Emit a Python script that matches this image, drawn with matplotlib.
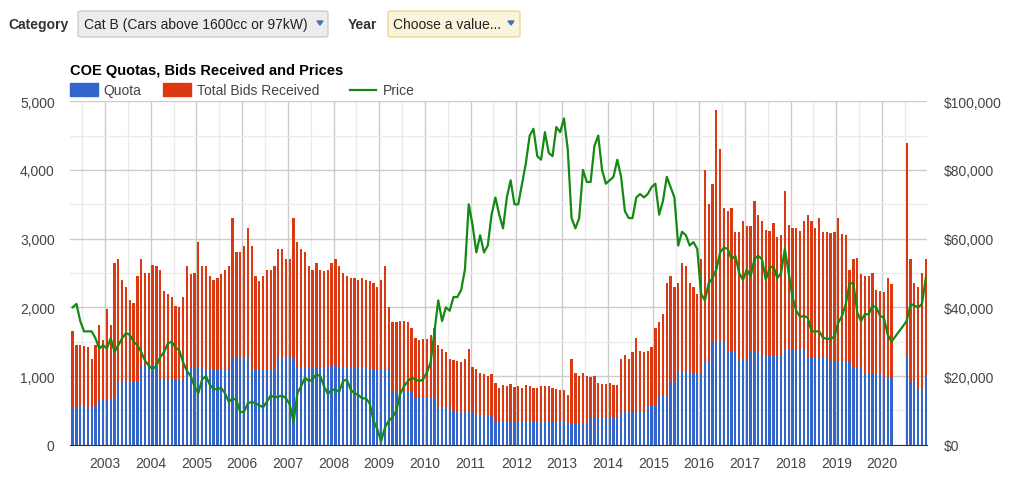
import numpy as np
import matplotlib
matplotlib.use("Agg")
import matplotlib.pyplot as plt
from matplotlib.patches import Rectangle, FancyBboxPatch, Polygon
from matplotlib.lines import Line2D
from matplotlib.ticker import FuncFormatter, MultipleLocator

plt.rcParams['font.family'] = ['Liberation Sans', 'DejaVu Sans']

nan = np.nan

# monthly readings, Apr 2002 .. Dec 2020 (no bidding Apr-Jun 2020)
start_year, start_month = 2002, 4

quota = [
    550, 550, 580, 580, 550, 550, 560, 660, 670,                          # 2002
    670, 665, 680, 930, 930, 925, 925, 925, 925, 1165, 1165, 1165,        # 2003
    1165, 1165, 950, 940, 940, 940, 940, 940, 940, 1135, 1135, 1135,      # 2004
    1135, 1135, 1102, 1102, 1102, 1102, 1102, 1102, 1102, 1272, 1272, 1272,  # 2005
    1272, 1272, 1087, 1087, 1087, 1087, 1087, 1087, 1087, 1272, 1272, 1272,  # 2006
    1272, 1272, 1127, 1127, 1127, 1127, 1127, 1127, 1127, 1127, 1127, 1150,  # 2007
    1150, 1115, 1115, 1115, 1115, 1115, 1115, 1115, 1115, 1100, 1100, 1100,  # 2008
    1100, 1100, 1100, 772, 772, 772, 772, 772, 772, 690, 690, 690,        # 2009
    690, 690, 690, 553, 553, 553, 553, 471, 471, 471, 471, 471,           # 2010
    471, 422, 422, 422, 422, 422, 350, 350, 350, 350, 350, 350,           # 2011
    350, 350, 350, 350, 350, 350, 350, 350, 350, 350, 350, 350,           # 2012
    350, 301, 301, 301, 301, 301, 301, 384, 384, 384, 384, 384,           # 2013
    384, 384, 384, 495, 495, 495, 495, 495, 495, 495, 568, 568,           # 2014
    568, 713, 713, 713, 932, 932, 1054, 1054, 1054, 1054, 1030, 1030,     # 2015
    1030, 1223, 1223, 1490, 1490, 1490, 1490, 1345, 1345, 1345, 1233, 1233,  # 2016
    1233, 1368, 1368, 1368, 1296, 1296, 1296, 1296, 1296, 1296, 1393, 1393,  # 2017
    1393, 1393, 1393, 1393, 1272, 1272, 1272, 1272, 1272, 1272, 1223, 1223,  # 2018
    1223, 1223, 1223, 1223, 1127, 1127, 1127, 1030, 1030, 1030, 1030, 1030,  # 2019
    981, 981, 981, nan, nan, nan, 1296, 923, 923, 811, 811, 1004,         # 2020
]

bids = [
    1660, 1450, 1450, 1440, 1420, 1250, 1450, 1750, 1520,                 # 2002
    1970, 1750, 2650, 2700, 2400, 2300, 2100, 2070, 2450, 2700, 2500, 2500,  # 2003
    2620, 2600, 2550, 2240, 2200, 2150, 2020, 2000, 2150, 2600, 2480, 2500,  # 2004
    2950, 2600, 2600, 2450, 2400, 2420, 2480, 2550, 2600, 3300, 2800, 2800,  # 2005
    2900, 3150, 2900, 2450, 2390, 2450, 2550, 2550, 2600, 2850, 2850, 2700,  # 2006
    2700, 3300, 2950, 2850, 2800, 2600, 2550, 2650, 2550, 2530, 2550, 2650,  # 2007
    2700, 2600, 2500, 2450, 2420, 2420, 2400, 2420, 2400, 2380, 2350, 2300,  # 2008
    2400, 2600, 2000, 1780, 1780, 1800, 1800, 1780, 1700, 1550, 1520, 1540,  # 2009
    1540, 1600, 1700, 1450, 1400, 1350, 1250, 1230, 1220, 1210, 1250, 1400,  # 2010
    1130, 1100, 1050, 1030, 1000, 1030, 900, 830, 870, 850, 880, 840,     # 2011
    850, 830, 870, 850, 830, 820, 860, 860, 850, 820, 810, 800,           # 2012
    800, 720, 1250, 1050, 1000, 1050, 1000, 980, 1000, 900, 880, 890,     # 2013
    900, 870, 870, 1250, 1300, 1250, 1350, 1550, 1370, 1350, 1370, 1420,  # 2014
    1700, 1780, 1900, 2350, 2450, 2300, 2350, 2650, 2600, 2350, 2300, 2200,  # 2015
    2700, 4000, 3500, 3800, 4880, 4300, 3450, 3400, 3450, 3100, 3100, 3250,  # 2016
    3190, 3180, 3550, 3350, 3250, 3120, 3110, 3230, 3020, 3050, 3700, 3200,  # 2017
    3160, 3150, 3110, 3250, 3350, 3260, 3160, 3300, 3100, 3090, 3080, 3100,  # 2018
    3300, 3070, 3050, 2550, 2700, 2720, 2480, 2460, 2460, 2500, 2250, 2240,  # 2019
    2230, 2430, 2340, nan, nan, nan, 4400, 2700, 2350, 2300, 2500, 2700,  # 2020
]

price = [
    40000, 41000, 36000, 33000, 33000, 33000, 31000, 28000, 29000,        # 2002
    28000, 31000, 27000, 29000, 31000, 32500, 32000, 30000, 29000, 27000, 24500, 23000,  # 2003
    22000, 23000, 25500, 27000, 29500, 30000, 28300, 27500, 24000, 21500, 20000, 17000,  # 2004
    15000, 19000, 20000, 17500, 16200, 16200, 16500, 15000, 12500, 13500, 13000, 9500,   # 2005
    9600, 12000, 12500, 12000, 11500, 10900, 12500, 14300, 13800, 14000, 14300, 13500,   # 2006
    11800, 6500, 15000, 17000, 19500, 18500, 19000, 20500, 20000, 17000, 14800, 16000,   # 2007
    16000, 15500, 18500, 19000, 16000, 15000, 14500, 13500, 13500, 12000, 7000, 4500,    # 2008
    1000, 5000, 7000, 8000, 10000, 14800, 17000, 18500, 19500, 19000, 18500, 19000,      # 2009
    21000, 24000, 33000, 42000, 36000, 40000, 39000, 43000, 43000, 45000, 51000, 70000,  # 2010
    64000, 56000, 61000, 56000, 58000, 67000, 72000, 67000, 63000, 72000, 77000, 70000,  # 2011
    70000, 76000, 82000, 90000, 92000, 84000, 83000, 91000, 85000, 84000, 92500, 91000,  # 2012
    95000, 86000, 66000, 63000, 66000, 80000, 76500, 76500, 87000, 90000, 80000, 76000,  # 2013
    77000, 78000, 83000, 78000, 68000, 66000, 66000, 72000, 73000, 72000, 73000, 75000,  # 2014
    76000, 67000, 71000, 78000, 75000, 72000, 58000, 62000, 61000, 58000, 59000, 57000,  # 2015
    44000, 42000, 47000, 48500, 51000, 56000, 57400, 57000, 54000, 55000, 50000, 48000,  # 2016
    51000, 49000, 54000, 55000, 54000, 48000, 51500, 52000, 48500, 50000, 57000, 50000,  # 2017
    43000, 39000, 37200, 37500, 37000, 33000, 33000, 33000, 31200, 30800, 30800, 31500,  # 2018
    35500, 37500, 41000, 47000, 47000, 38500, 36000, 38000, 38000, 40500, 40000, 37500,  # 2019
    37000, 32000, 30000, nan, nan, nan, 36000, 41000, 40500, 40000, 41000, 48500,        # 2020
]

years = list(range(2003, 2021))

BLUE = '#3366cc'
RED = '#dc3912'
GREEN = '#138a13'
TXT = '#444444'

W, H = 1024, 485


def fx(px):
    return px / W


def fy(py):
    return 1 - py / H


def main():
    n = len(bids)
    t = np.array([start_year + (start_month - 1 + i) / 12 + 1 / 24 for i in range(n)])
    q = np.array(quota, dtype=float)
    b = np.array(bids, dtype=float)
    p = np.array(price, dtype=float)

    fig = plt.figure(figsize=(W / 100, H / 100), dpi=100)
    ax = fig.add_axes([fx(70), fy(445.7), fx(927) - fx(70), fy(102.3) - fy(445.7)])

    bw = 0.6 / 12
    ax.bar(t, b, width=bw, color=RED, linewidth=0, zorder=2)
    ax.bar(t, q, width=bw, color=BLUE, linewidth=0, zorder=3)

    ax.set_xlim(2002.234, 2020.985)
    ax.set_ylim(0, 5000)
    ax.set_xticks(years)
    ax.set_xticks(np.arange(2002.5, 2021, 1.0), minor=True)
    ax.yaxis.set_major_locator(MultipleLocator(1000))
    ax.yaxis.set_minor_locator(MultipleLocator(500))
    ax.yaxis.set_major_formatter(FuncFormatter(lambda v, _: f"{int(v):,}"))
    ax.grid(True, which='major', color='#cccccc', lw=1.0, zorder=0)
    ax.grid(True, which='minor', color='#ebebeb', lw=1.0, zorder=0)
    ax.set_axisbelow(True)
    for s in ['top', 'right', 'left']:
        ax.spines[s].set_visible(False)
    ax.spines['bottom'].set_color('#333333')
    ax.spines['bottom'].set_zorder(5)
    ax.tick_params(which='both', length=0)
    ax.tick_params(axis='y', pad=11, labelsize=10, labelcolor=TXT)
    ax.tick_params(axis='x', pad=8, labelsize=10, labelcolor=TXT)

    ax2 = ax.twinx()
    ok = ~np.isnan(p)
    ax2.plot(t[ok], p[ok], color=GREEN, lw=1.6, solid_joinstyle='round', zorder=4)
    ax2.set_ylim(0, 100000)
    ax2.yaxis.set_major_locator(MultipleLocator(20000))
    ax2.yaxis.set_major_formatter(FuncFormatter(lambda v, _: f"${int(v):,}"))
    for s in ax2.spines.values():
        s.set_visible(False)
    ax2.tick_params(length=0, pad=12, labelsize=10, labelcolor=TXT)

    # title and legend
    fig.text(fx(70), fy(71), "COE Quotas, Bids Received and Prices", fontsize=10.5,
             fontweight='bold', color='#000000', va='center', ha='left')
    fig.patches.append(Rectangle((fx(70), fy(97)), fx(28), fy(84) - fy(97),
                                 transform=fig.transFigure, color=BLUE))
    fig.text(fx(103), fy(91), "Quota", fontsize=10, color=TXT, va='center')
    fig.patches.append(Rectangle((fx(163), fy(97)), fx(28), fy(84) - fy(97),
                                 transform=fig.transFigure, color=RED))
    fig.text(fx(197), fy(91), "Total Bids Received", fontsize=10, color=TXT, va='center')
    fig.lines.append(Line2D([fx(350), fx(376)], [fy(91), fy(91)], transform=fig.transFigure,
                            color=GREEN, lw=1.6))
    fig.text(fx(383), fy(91), "Price", fontsize=10, color=TXT, va='center')

    # header controls
    fig.text(fx(8), fy(25), "Category", fontsize=10, fontweight='bold', color='#333333', va='center')
    fig.patches.append(FancyBboxPatch((fx(78), fy(38)), fx(328) - fx(78), fy(12) - fy(38),
                                      boxstyle="round,pad=0,rounding_size=0.003",
                                      transform=fig.transFigure, facecolor='#ececec',
                                      edgecolor='#c4c4c4', lw=0.8))
    fig.text(fx(84), fy(25), "Cat B (Cars above 1600cc or 97kW)", fontsize=10, color='#222222', va='center')
    fig.patches.append(Polygon([(fx(317), fy(22)), (fx(323), fy(22)), (fx(320), fy(26))],
                               closed=True, transform=fig.transFigure, color='#4a6fb3'))

    fig.text(fx(348), fy(25), "Year", fontsize=10, fontweight='bold', color='#333333', va='center')
    fig.patches.append(FancyBboxPatch((fx(388), fy(38)), fx(520) - fx(388), fy(12) - fy(38),
                                      boxstyle="round,pad=0,rounding_size=0.003",
                                      transform=fig.transFigure, facecolor='#fbf4dc',
                                      edgecolor='#e8cf7a', lw=0.8))
    fig.text(fx(393), fy(25), "Choose a value...", fontsize=10, color='#222222', va='center')
    fig.patches.append(Polygon([(fx(508), fy(22)), (fx(514), fy(22)), (fx(511), fy(26))],
                               closed=True, transform=fig.transFigure, color='#4a6fb3'))

    fig.savefig("out.png", dpi=100, facecolor='white')


if __name__ == "__main__":
    main()
